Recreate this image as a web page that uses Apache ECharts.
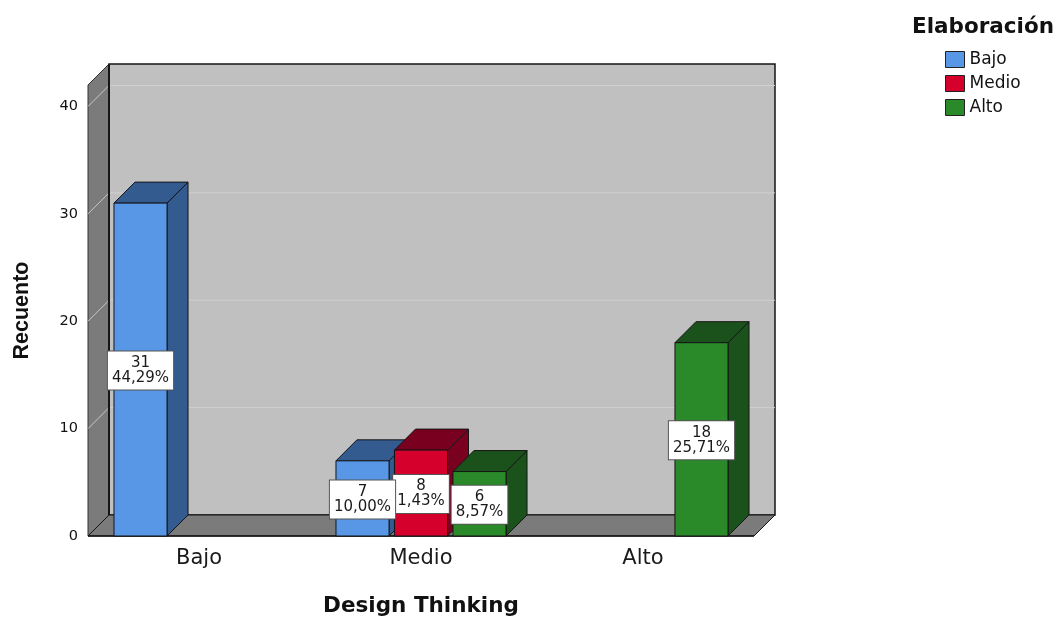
<!DOCTYPE html>
<html>
<head>
<meta charset="utf-8">
<script src="https://cdn.jsdelivr.net/npm/echarts@6/dist/echarts.min.js"></script>
<style>
  html, body { margin: 0; padding: 0; background: #ffffff; }
  #chart { width: 1057px; height: 617px; }
</style>
</head>
<body>
<div id="chart"></div>
<script>
// Design Thinking level (x categories) split by Elaboración level (series)
const categories = ['Bajo', 'Medio', 'Alto'];
const seriesNames = ['Bajo', 'Medio', 'Alto'];
const countsBajo  = [31, 7, 0];
const countsMedio = [0, 8, 0];
const countsAlto  = [0, 6, 18];
const pctBajo  = ['44,29%', '10,00%', ''];
const pctMedio = ['', '1,43%', ''];
const pctAlto  = ['', '8,57%', '25,71%'];
const yTicks = [0, 10, 20, 30, 40];
const yMax = 42;

// face colours: front, top/side (shaded)
const FRONT = ['#5797e6', '#d5002c', '#2a8a2a'];
const SHADE = ['#345b8f', '#7a0020', '#1b521b'];
const DEPTH = 21;          // 3D extrusion in px (right / up)
const BAR = 0.239;         // bar width as share of category band
const SLOT = 0.2635;       // distance between neighbouring bars in a group
const EDGE = '#151515';
const FONT = 'DejaVu Sans';

const chart = echarts.init(document.getElementById('chart'), null, { renderer: 'canvas' });

function barRenderer(si, pcts) {
  return function (params, api) {
    const cat = api.value(0);
    const val = api.value(1);
    if (!val) return;
    const band = api.size([1, 0])[0];
    const base = api.coord([cat, 0]);
    const cx = base[0] + (si - 1) * band * SLOT;
    const w = band * BAR;
    const x0 = cx - w / 2, x1 = cx + w / 2;
    const y0 = base[1];
    const yt = api.coord([cat, val])[1];
    const ym = api.coord([cat, val / 2])[1];
    const D = DEPTH;
    const edge = { stroke: EDGE, lineWidth: 1 };
    return {
      type: 'group',
      children: [
        { type: 'polygon', shape: { points: [[x1, yt], [x1 + D, yt - D], [x1 + D, y0 - D], [x1, y0]] },
          style: Object.assign({ fill: SHADE[si] }, edge) },
        { type: 'polygon', shape: { points: [[x0, yt], [x0 + D, yt - D], [x1 + D, yt - D], [x1, yt]] },
          style: Object.assign({ fill: SHADE[si] }, edge) },
        { type: 'rect', shape: { x: x0, y: yt, width: w, height: y0 - yt },
          style: Object.assign({ fill: FRONT[si] }, edge) },
        { type: 'text', x: cx, y: ym + 1, z2: 103 - si,
          style: {
            text: val + '\n' + pcts[params.dataIndex],
            align: 'center', verticalAlign: 'middle',
            fontFamily: FONT, fontSize: 15, lineHeight: 15,
            fill: '#1a1a1a', backgroundColor: '#ffffff',
            borderColor: '#555555', borderWidth: 1, padding: [4, 4]
          } }
      ]
    };
  };
}

// back wall, left wall and floor of the 3D frame
function wallRenderer(params, api) {
  const cs = params.coordSys;
  const D = DEPTH;
  const gx = cs.x, gy = cs.y, gw = cs.width, gh = cs.height;
  const bottom = gy + gh;
  const kids = [
    { type: 'rect', shape: { x: gx + D, y: gy - D, width: gw, height: gh },
      style: { fill: '#c0c0c0', stroke: EDGE, lineWidth: 1.5 } },
    { type: 'polygon', shape: { points: [[gx, gy], [gx + D, gy - D], [gx + D, bottom - D], [gx, bottom]] },
      style: { fill: '#7b7b7b', stroke: '#333333', lineWidth: 1 } },
    { type: 'polygon', shape: { points: [[gx, bottom], [gx + gw, bottom], [gx + gw + D, bottom - D], [gx + D, bottom - D]] },
      style: { fill: '#7b7b7b', stroke: EDGE, lineWidth: 1 } }
  ];
  yTicks.forEach(function (v) {
    if (v === 0) return;
    const y = api.coord([0, v])[1];
    kids.push({ type: 'line', shape: { x1: gx + D, y1: y - D, x2: gx + gw + D, y2: y - D },
      style: { stroke: '#d0d0d0', lineWidth: 1 } });
    kids.push({ type: 'line', shape: { x1: gx, y1: y, x2: gx + D, y2: y - D },
      style: { stroke: '#c8c8c8', lineWidth: 1 } });
  });
  kids.push({ type: 'line', shape: { x1: gx + D, y1: gy - D, x2: gx + D, y2: bottom - D },
    style: { stroke: EDGE, lineWidth: 2 } });
  kids.push({ type: 'line', shape: { x1: gx, y1: bottom, x2: gx + gw, y2: bottom },
    style: { stroke: EDGE, lineWidth: 1.5 } });
  return { type: 'group', children: kids };
}

const counts = [countsBajo, countsMedio, countsAlto];
const pcts = [pctBajo, pctMedio, pctAlto];

const barSeries = seriesNames.map(function (name, si) {
  return {
    name: name,
    type: 'custom',
    z: 3,
    clip: false,
    itemStyle: { color: FRONT[si] },
    renderItem: barRenderer(si, pcts[si]),
    encode: { x: 0, y: 1 },
    data: counts[si].map(function (v, ci) { return [ci, v]; })
  };
});

chart.setOption({
  animation: false,
  color: FRONT,
  title: {
    text: 'Elaboración',
    left: 907, top: 11,
    textStyle: { fontFamily: FONT, fontWeight: 'bold', fontSize: 21.5, color: '#111111' }
  },
  legend: {
    orient: 'vertical',
    left: 940, top: 46,
    itemWidth: 19, itemHeight: 16, itemGap: 7,
    icon: 'rect',
    selectedMode: false,
    itemStyle: { borderColor: '#222222', borderWidth: 1 },
    textStyle: { fontFamily: FONT, fontSize: 17, color: '#111111' },
    data: seriesNames.map(function (n, i) { return { name: n, itemStyle: { color: FRONT[i] } }; })
  },
  grid: { left: 88, right: 303, top: 85, bottom: 81, containLabel: false, outerBoundsMode: 'none' },
  xAxis: {
    type: 'category',
    data: categories,
    axisLine: { show: false },
    axisTick: { show: false },
    axisLabel: { margin: 12, fontFamily: FONT, fontSize: 21, color: '#1a1a1a' },
    name: 'Design Thinking',
    nameLocation: 'middle',
    nameGap: 59,
    nameTextStyle: { fontFamily: FONT, fontWeight: 'bold', fontSize: 21.5, color: '#111111' }
  },
  yAxis: {
    type: 'value',
    min: 0, max: yMax, interval: 10,
    splitLine: { show: false },
    axisLine: { show: false },
    axisTick: { show: false },
    axisLabel: {
      margin: 10, fontFamily: FONT, fontSize: 14.5, color: '#111111',
      formatter: function (v) { return yTicks.indexOf(v) >= 0 ? String(v) : ''; }
    },
    name: 'Recuento',
    nameLocation: 'middle',
    nameGap: 55,
    nameTextStyle: { fontFamily: 'Liberation Sans', fontWeight: 'bold', fontSize: 21.5, color: '#111111' }
  },
  series: [{
    name: 'frame',
    type: 'custom',
    z: 1,
    clip: false,
    silent: true,
    renderItem: wallRenderer,
    data: [[0, 0]]
  }].concat(barSeries)
});
</script>
</body>
</html>
